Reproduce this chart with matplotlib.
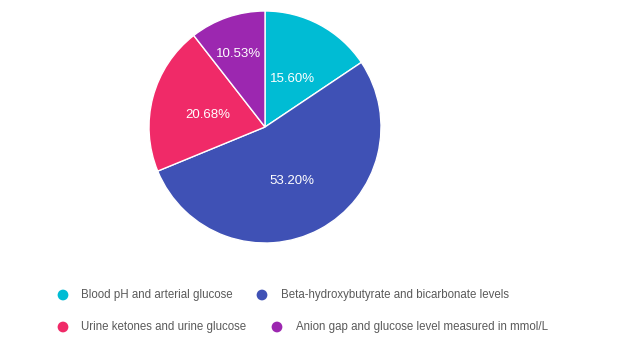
import matplotlib
matplotlib.use("Agg")
import matplotlib.pyplot as plt
import numpy as np

labels = ["Blood pH and arterial glucose",
          "Beta-hydroxybutyrate and bicarbonate levels",
          "Urine ketones and urine glucose",
          "Anion gap and glucose level measured in mmol/L"]
values = [15.60, 53.20, 20.68, 10.53]
colors = ["#00BCD4", "#3F51B5", "#F02A68", "#9C27B0"]
label_dist = [0.5, 0.5, 0.51, 0.69]

plt.rcParams['font.family'] = ['Liberation Sans', 'DejaVu Sans']
W, H = 625, 360
fig = plt.figure(figsize=(W/100, H/100), dpi=100)
cx, cy, r = 265, 127, 116
ax = fig.add_axes([(cx-r)/W, (H-cy-r)/H, 2*r/W, 2*r/H])
wedges, _ = ax.pie(values, colors=colors, startangle=90, counterclock=False,
       wedgeprops=dict(edgecolor="white", linewidth=1))
for w, v, d in zip(wedges, values, label_dist):
    a = np.deg2rad((w.theta1 + w.theta2) / 2)
    ax.text(d*np.cos(a), d*np.sin(a) - 0.025, f"{v:.2f}%", color="white", fontsize=9.5,
            ha='center', va='center')
ax.set_aspect('equal')
ax.set_xlim(-1, 1); ax.set_ylim(-1, 1)

# legend (pixel positions)
pos = [(63, 295, 81), (262, 295, 281), (63, 327, 81), (277, 327, 296)]
lax = fig.add_axes([0, 0, 1, 1]); lax.set_xlim(0, W); lax.set_ylim(H, 0); lax.axis('off')
for (mx, my, tx), lab, c in zip(pos, labels, colors):
    lax.scatter([mx], [my], s=60, color=c, edgecolor='none')
    lax.text(tx, my, lab, fontsize=8.3, color="#5a5a5a", va='center', ha='left')

fig.savefig("out.png", dpi=100)
